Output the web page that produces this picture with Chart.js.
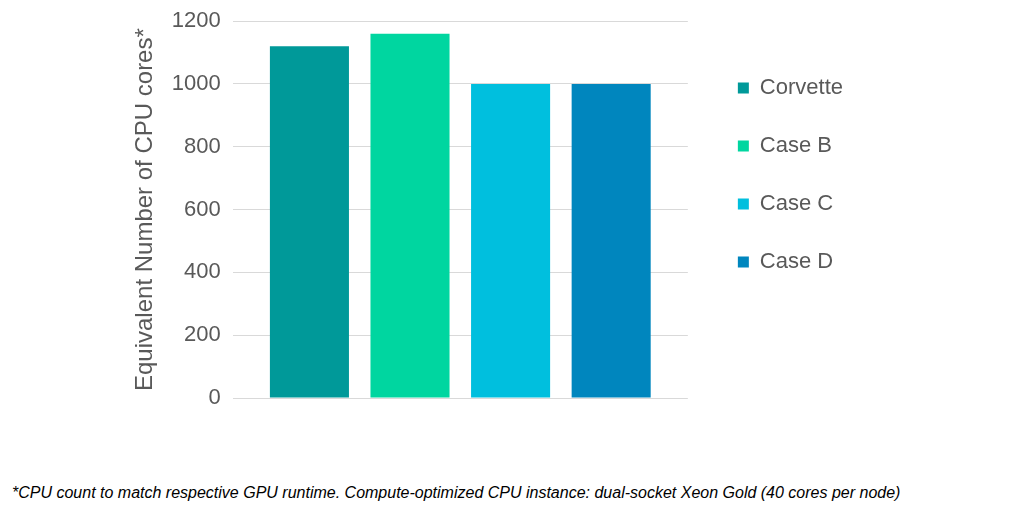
<!DOCTYPE html>
<html>
<head>
<meta charset="utf-8">
<script src="https://cdn.jsdelivr.net/npm/chart.js@4"></script>
<style>
  body { margin: 0; background: #fff; }
  #wrap { position: relative; width: 1024px; height: 430px; margin-top: -4px; }
  #note {
    position: absolute; left: 12px; top: 484px;
    font-family: "Liberation Sans Narrow", "Liberation Sans", sans-serif;
    font-style: italic; font-size: 16px; color: #000; white-space: nowrap;
  }
</style>
</head>
<body>
<div id="wrap"><canvas id="myChart"></canvas></div>
<div id="note">*CPU count to match respective GPU runtime. Compute-optimized CPU instance: dual-socket Xeon Gold (40 cores per node)</div>
<script>
var seriesNames = ["Corvette", "Case B", "Case C", "Case D"];
var seriesValues = [1120, 1160, 1000, 1000];
var seriesColors = ["#009999", "#00D6A0", "#00BFDE", "#0086BE"];
var yTicks = [0, 200, 400, 600, 800, 1000, 1200];

var datasets = seriesNames.map(function (name, i) {
  return {
    label: name,
    data: [seriesValues[i]],
    backgroundColor: seriesColors[i],
    borderWidth: 0,
    categoryPercentage: 0.884,
    barPercentage: 0.786,
  };
});

Chart.defaults.font.family = "'Liberation Sans', Arial, sans-serif";
Chart.defaults.color = "#595959";

var ctx1 = document.getElementById("myChart").getContext("2d");
var myChart1 = new Chart(ctx1, {
  type: "bar",
  data: { labels: [""], datasets: datasets },
  options: {
    responsive: true,
    maintainAspectRatio: false,
    animation: false,
    layout: { padding: { left: 122, top: 2, right: 171, bottom: 20 } },
    plugins: {
      tooltip: { enabled: false },
      legend: {
        position: "right",
        align: "start",
        maxWidth: 200,
        title: {
          display: true,
          text: " ",
          font: { size: 24, lineHeight: 1 },
          padding: { top: 0, bottom: 19 },
        },
        labels: {
          boxWidth: 11,
          boxHeight: 11,
          padding: 36,
          font: { size: 22 },
          color: "#595959",
        },
      },
    },
    scales: {
      x: {
        ticks: { display: false },
        grid: { display: false },
        border: { display: false },
      },
      y: {
        min: 0,
        max: 1200,
        afterBuildTicks: function (axis) {
          axis.ticks = yTicks.map(function (v) { return { value: v }; });
        },
        ticks: {
          font: { size: 22 },
          color: "#595959",
          padding: 12,
          callback: function (v) { return String(v); },
        },
        grid: { color: "#D9D9D9", drawTicks: false },
        border: { display: false },
        title: {
          display: true,
          text: "Equivalent Number of CPU cores*",
          font: { size: 24 },
          color: "#595959",
          padding: { top: 9, bottom: 0 },
        },
      },
      gap: {
        position: "right",
        display: true,
        ticks: { display: false },
        grid: { display: false },
        border: { display: false },
        afterFit: function (axis) { axis.width = 14; },
      },
    },
  },
});
</script>
</body>
</html>
